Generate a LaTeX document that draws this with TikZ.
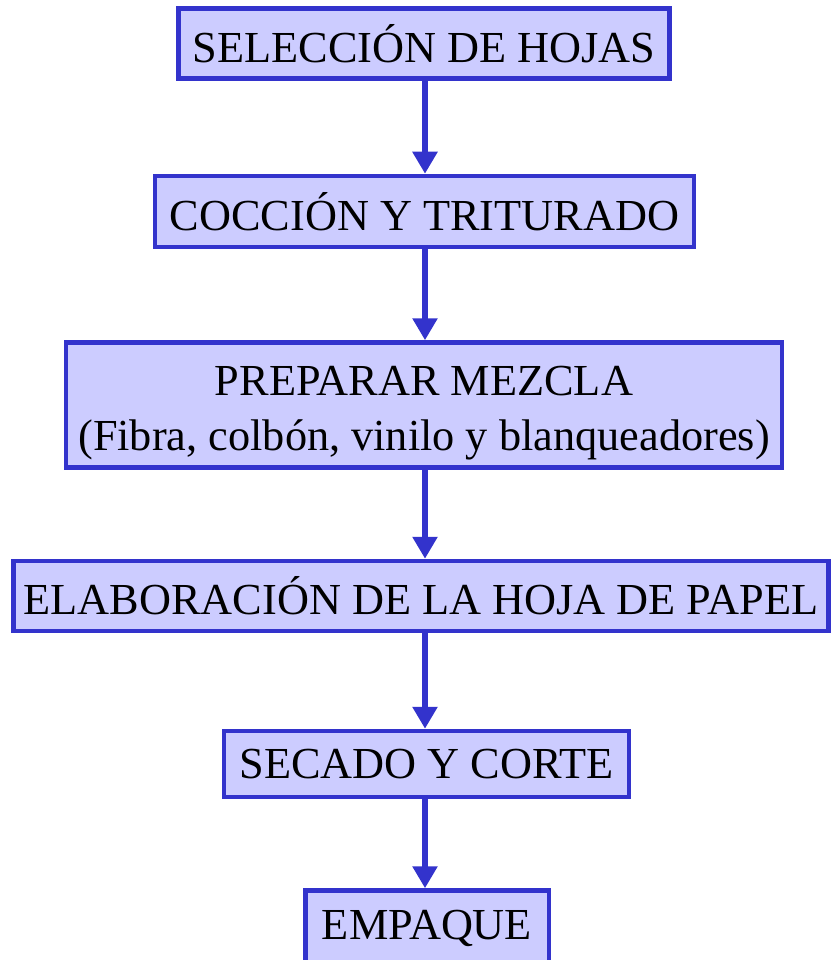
\documentclass[tikz,border=0pt]{standalone}
\usepackage{fontspec}
\setmainfont{Liberation Serif}
\usetikzlibrary{arrows.meta}
\definecolor{boxfill}{HTML}{CCCCFF}
\definecolor{boxline}{HTML}{3333CC}
\begin{document}
\begin{tikzpicture}[x=1pt,y=1pt,
  stepbox/.style={draw=boxline, fill=boxfill, line width=4.5pt, rectangle, inner sep=0pt,
    font=\fontsize{44.3}{55}\selectfont, align=center, text=black},
  flowarrow/.style={draw=boxline, line width=6pt, -{Triangle[length=22pt,width=24pt]}}]
\useasboundingbox (0,0) rectangle (831,-960);
\fill[white] (0,0) rectangle (831,-960);
\node[stepbox, minimum width=491pt, minimum height=70pt] (n1) at (424,-43.5) {SELECCIÓN DE HOJAS};
\node[stepbox, minimum width=539pt, minimum height=71pt] (n2) at (424.5,-211.5) {COCCIÓN Y TRITURADO};
\node[stepbox, minimum width=716pt, minimum height=125pt] (n3) at (424,-405) {\rule{0pt}{46pt}PREPARAR MEZCLA\\(Fibra, colbón, vinilo y blanqueadores)};
\node[stepbox, minimum width=815pt, minimum height=70pt] (n4) at (421,-596) {ELABORACIÓN DE LA HOJA DE PAPEL};
\node[stepbox, minimum width=405pt, minimum height=66pt] (n5) at (426.5,-764) {SECADO Y CORTE};
\node[stepbox, minimum width=243.5pt, minimum height=76pt] (n6) at (427,-928.5) {EMPAQUE};
\coordinate (ax) at (425,0);
\draw[flowarrow] (n1.south -| ax) -- (n2.north -| ax);
\draw[flowarrow] (n2.south -| ax) -- (n3.north -| ax);
\draw[flowarrow] (n3.south -| ax) -- (n4.north -| ax);
\draw[flowarrow] (n4.south -| ax) -- (n5.north -| ax);
\draw[flowarrow] (n5.south -| ax) -- (n6.north -| ax);
\end{tikzpicture}
\end{document}
